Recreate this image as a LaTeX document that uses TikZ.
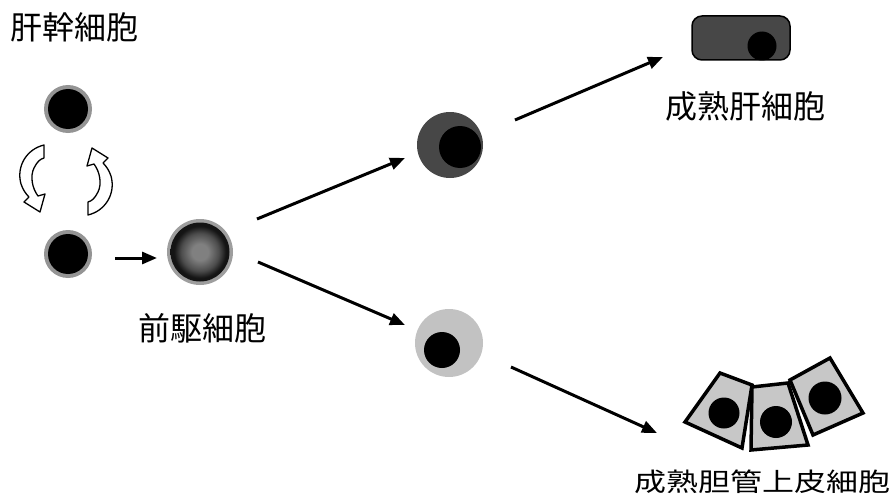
\documentclass[tikz,border=0pt]{standalone}
\usepackage{fontspec}
\newfontfamily\jp{Noto Sans CJK JP}
\usetikzlibrary{arrows.meta,calc}

\definecolor{rimgray}{gray}{0.58}
\definecolor{darkcyto}{gray}{0.28}
\definecolor{lightcyto}{gray}{0.76}
\definecolor{ductcyto}{gray}{0.78}
\definecolor{progcore}{gray}{0.50}
\definecolor{progmid}{gray}{0.30}
\definecolor{progedge}{gray}{0.08}
\definecolor{progrim}{gray}{0.62}

% progenitor cytoplasm: mid-grey core fading to a dark edge
\pgfdeclareradialshading{progshade}{\pgfpoint{0bp}{0bp}}{%
  color(0bp)=(progcore); color(7bp)=(progcore); color(16bp)=(progmid);
  color(22bp)=(progedge); color(25bp)=(progedge); color(50bp)=(progedge)}

\tikzset{
  label/.style={font=\jp\fontsize{32}{36}\selectfont, inner sep=0pt},
  cell/.style={circle, inner sep=0pt, draw=none},
  nucleus/.style={circle, inner sep=0pt, fill=black},
  flow/.style={line width=3pt, -{Triangle[length=15pt,width=12pt]}},
  turn/.style={draw=black, fill=white, line width=1.3pt, line join=round},
  duct/.style={draw=black, fill=ductcyto, line width=3.5pt, line join=miter},
  pics/turnarrow/.style={code={
    \path[turn] (-22,-35) .. controls (-39,-31) and (-50,-14) .. (-45,4)
      .. controls (-43,10) and (-40,14) .. (-37,17) -- (-42,22) -- (-26,32)
      -- (-21,14) -- (-28,16) .. controls (-34,8) and (-36,-4) .. (-32,-12)
      .. controls (-29,-18) and (-26,-21) .. (-22,-22) -- cycle;
  }}
}

\begin{document}
\begin{tikzpicture}[x=1pt, y=-1pt]
\useasboundingbox (0,0) rectangle (892,495);

% stem cells and self-renewal
\node[label] (stemtitle) at (74.5,27.5) {肝幹細胞};
\node[cell, fill=rimgray, minimum size=48pt] (stemA) at (68,109) {};
\node[nucleus, minimum size=40pt] (stemAn) at (stemA) {};
\node[cell, fill=rimgray, minimum size=48pt] (stemB) at (68,254) {};
\node[nucleus, minimum size=40pt] (stemBn) at (stemB) {};
\pic at (66,180) {turnarrow};
\pic[rotate=180] at (66,180) {turnarrow};

% progenitor
\node[cell, fill=progrim, minimum size=66pt] (prog) at (200,252) {};
\shade[shading=progshade] (prog.center) circle[radius=29.5];
\node[label] (progtitle) at (202,328) {前駆細胞};

% hepatocyte lineage
\node[cell, fill=darkcyto, minimum size=66pt] (dark) at (450,145) {};
\node[nucleus, minimum size=42pt] (darkn) at (460,147) {};
\node[draw=black, line width=1.5pt, fill=darkcyto, rounded corners=10pt,
      minimum width=98pt, minimum height=44pt, inner sep=0pt] (hep) at (741,38) {};
\node[nucleus, minimum size=29pt] (hepn) at (762,46) {};
\node[label] (heptitle) at (745,106) {成熟肝細胞};

% cholangiocyte lineage
\node[cell, fill=lightcyto, minimum size=68pt] (light) at (449,343) {};
\node[nucleus, minimum size=36pt] (lightn) at (442,350) {};
\path[duct] (720,373) -- (752,385) -- (742,448) -- (685,422) -- cycle;
\path[duct] (752,387) -- (788,383) -- (808,445) -- (751,450) -- cycle;
\path[duct] (790,380) -- (830,358) -- (863,413) -- (813,435) -- cycle;
\node[nucleus, minimum size=31pt] (chol1) at (724,413) {};
\node[nucleus, minimum size=32pt] (chol) at (776,422) {};
\node[nucleus, minimum size=33pt] (chol3) at (825,398) {};
\node[label, yscale=0.8] (choltitle) at (762,482) {成熟胆管上皮細胞};

% differentiation arrows
\draw[flow] ($(stemB)+(47,4)$) -- ($(prog)+(-43,6)$);
\draw[flow] ($(prog)+(57,-33)$) -- ($(dark)+(-45,13)$);
\draw[flow] ($(prog)+(58,10)$) -- ($(light)+(-44,-18)$);
\draw[flow] ($(dark)+(65,-25)$) -- ($(hep)+(-78,19)$);
\draw[flow] ($(light)+(62,24)$) -- ($(chol)+(-119,11)$);
\end{tikzpicture}
\end{document}
